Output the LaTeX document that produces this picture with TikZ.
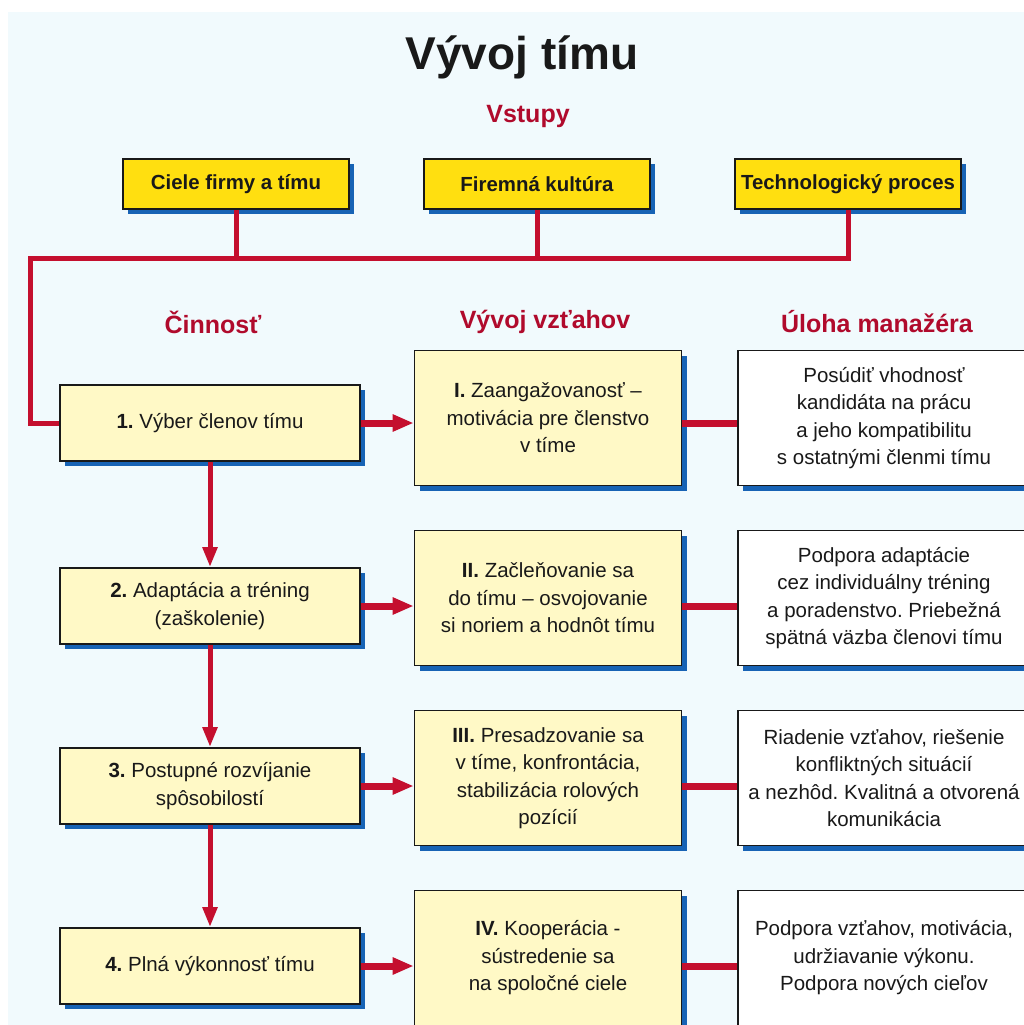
\documentclass[tikz,border=0pt]{standalone}
\usepackage{fontspec}
\setmainfont{Liberation Sans}
\usetikzlibrary{arrows.meta,shadows}
\frenchspacing

\definecolor{linered}{HTML}{C40F2E}
\definecolor{headred}{HTML}{B00A2C}
\definecolor{gold}{HTML}{FFDF10}
\definecolor{paleyellow}{HTML}{FFF9C6}
\definecolor{shadowblue}{HTML}{1763B5}
\definecolor{bgblue}{HTML}{F1FAFD}

\begin{document}
\begin{tikzpicture}[x=1pt, y=-1pt,
  box/.style={rectangle, draw=black!90, line width=1.6pt, align=center, text=black!90,
    font=\fontsize{20.5}{27.5}\selectfont,
    drop shadow={fill=shadowblue, opacity=1, shadow xshift=5pt, shadow yshift=-5pt}},
  inbox/.style={box, fill=gold, minimum width=226pt, minimum height=50pt,
    font=\bfseries\fontsize{20.4}{24}\selectfont},
  actbox/.style={box, fill=paleyellow, minimum width=300pt, minimum height=76pt},
  relbox/.style={box, fill=paleyellow, minimum width=267pt, minimum height=135pt},
  mgrbox/.style={box, fill=white, minimum width=292pt, minimum height=135pt},
  heading/.style={text=headred, font=\bfseries\fontsize{25}{30}\selectfont},
  redline/.style={draw=linered, line width=5pt},
  rowline/.style={draw=linered, line width=7pt},
  bigtip/.style={-{Triangle[length=21pt,width=16pt]}},
  downtip/.style={-{Triangle[length=20pt,width=14pt]}}
]
\useasboundingbox (0,0) rectangle (1024,1025);
\clip (0,0) rectangle (1024,1025);
\fill[white] (0,0) rectangle (1024,1025);
\fill[bgblue] (8,12) rectangle (1024,1025);

% title and inputs
\node[font=\bfseries\fontsize{46}{50}\selectfont, text=black!90] (title) at (522,57) {Vývoj tímu};
\node[heading] (inputs) at (528,116) {Vstupy};

\node[inbox] (in1) at (236,184) {Ciele firmy a tímu};
\node[inbox] (in2) at (537,184) {Firemná kultúra};
\node[inbox] (in3) at (848,184) {Technologický proces};

% column headings
\node[heading] (hact) at (213,322) {Činnosť};
\node[heading] (hrel) at (545,322) {Vývoj vzťahov};
\node[heading] (hmgr) at (877,322) {Úloha manažéra};

% activities
\node[actbox] (l1) at (210,423) {\textbf{1.} Výber členov tímu};
\node[actbox] (l2) at (210,606) {\textbf{2.} Adaptácia a tréning\\(zaškolenie)};
\node[actbox] (l3) at (210,786) {\textbf{3.} Postupné rozvíjanie\\spôsobilostí};
\node[actbox] (l4) at (210,966) {\textbf{4.} Plná výkonnosť tímu};

% relations
\node[relbox] (m1) at (548,418) {\textbf{I.} Zaangažovanosť –\\motivácia pre členstvo\\v tíme};
\node[relbox] (m2) at (548,598) {\textbf{II.} Začleňovanie sa\\do tímu – osvojovanie\\si noriem a hodnôt tímu};
\node[relbox] (m3) at (548,778) {\textbf{III.} Presadzovanie sa\\v tíme, konfrontácia,\\stabilizácia rolových\\pozícií};
\node[relbox] (m4) at (548,958) {\textbf{IV.} Kooperácia -\\sústredenie sa\\na spoločné ciele};

% manager role
\node[mgrbox] (r1) at (884,418) {Posúdiť vhodnosť\\kandidáta na prácu\\a jeho kompatibilitu\\s ostatnými členmi tímu};
\node[mgrbox] (r2) at (884,598) {Podpora adaptácie\\cez individuálny tréning\\a poradenstvo. Priebežná\\spätná väzba členovi tímu};
\node[mgrbox] (r3) at (884,778) {Riadenie vzťahov, riešenie\\konfliktných situácií\\a nezhôd. Kvalitná a otvorená\\komunikácia};
\node[mgrbox] (r4) at (884,958) {Podpora vzťahov, motivácia,\\udržiavanie výkonu.\\Podpora nových cieľov};

% connectors
\coordinate (bus) at (30,258);
\draw[redline] (in3.south) |- (bus) |- (l1.west);
\draw[redline] (in1.south) -- (in1.south |- bus);
\draw[redline] (in2.south) -- (in2.south |- bus);

\foreach \a/\b in {l1/l2, l2/l3, l3/l4}
  \draw[redline, downtip] (\a.south) -- (\b.north);

\foreach \i in {1,...,4} {
  \draw[rowline, bigtip] (l\i.east) -- (l\i.east -| m\i.west);
  \draw[rowline] (m\i.east |- l\i.east) -- (r\i.west |- l\i.east);
}
\end{tikzpicture}
\end{document}
